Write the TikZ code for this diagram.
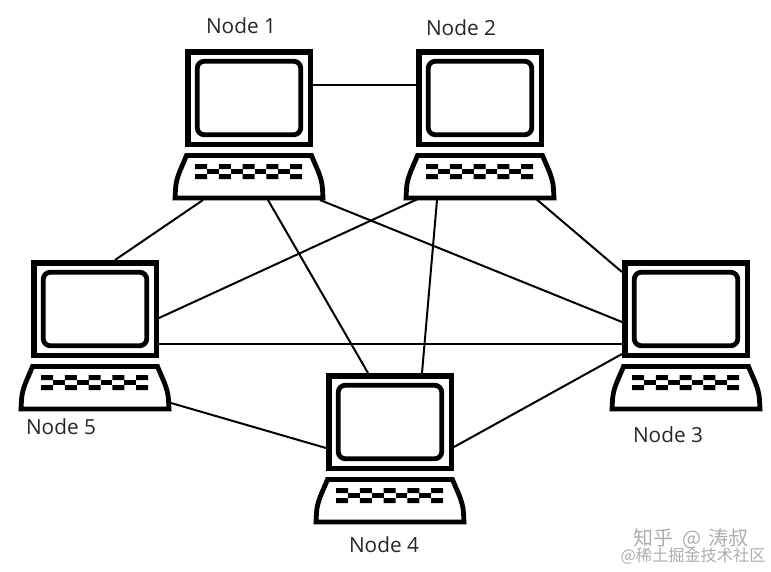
\documentclass[tikz,border=0pt]{standalone}
\usepackage{fontspec}
\setmainfont{Open Sans}
\newfontfamily\cjkwm{Noto Sans CJK SC}
\usetikzlibrary{calc}
\tikzset{
  x=1pt,y=-1pt,
  monitorbox/.style={draw,line width=5.5pt,rectangle,fill=white,minimum width=122.5pt,minimum height=92.5pt,inner sep=0pt,anchor=north west},
  screenbox/.style={draw,line width=4.8pt,rectangle,rounded corners=7pt,minimum width=103.5pt,minimum height=73.5pt,inner sep=0pt},
  kbbox/.style={rectangle,minimum width=151pt,minimum height=47pt,inner sep=0pt,outer sep=0pt,anchor=north west},
  kbshape/.style={draw,line width=4.8pt,line join=miter},
  link/.style={line width=2pt,black},
  lbl/.style={font=\fontsize{20.8}{23}\selectfont,text=black!85,inner sep=0pt},
  wm/.style={inner sep=0pt,text=black!32},
  computer/.pic={
    \node[monitorbox] (m) at (0,0) {};
    \node[screenbox] (s) at (m.center) {};
    \node[kbbox] (k) at (-11,104) {};
    \draw[kbshape] (1.5,106.5) -- (126.5,106.5) .. controls (131,118) and (137,128) .. (137.5,140) -- (138,149) -- (-10,149) -- (-9.5,140) .. controls (-9,128) and (-3,118) .. (1.5,106.5) -- cycle;
    \foreach \i in {0,1,2,3,4} \fill ({10+23.8*\i},115) rectangle +(12,5) ({10+23.8*\i},125) rectangle +(12,5);
    \foreach \i in {0,1,2,3} \fill ({22+23.8*\i},120) rectangle +(11.8,5);
  }
}
\begin{document}
\begin{tikzpicture}
\useasboundingbox (0,0) rectangle (771,571);
\pic (c1) at (185,49) {computer};
\pic (c2) at (416,49) {computer};
\pic (c3) at (622,260) {computer};
\pic (c4) at (326,373) {computer};
\pic (c5) at (31,260) {computer};
\draw[link] ($(c1m.east)+(0,-13)$) -- ($(c2m.west)+(0,-13)$);
\draw[link] ($(c1k.south)+(-46.5,0)$) -- ($(c5m.north)+(20,0)$);
\draw[link] ($(c1k.south)+(18.5,0)$) -- ($(c4m.north)+(-22,0)$);
\draw[link] ($(c1k.south)+(70.5,0)$) -- ($(c3m.west)+(0,13)$);
\draw[link] ($(c2k.south)+(-60.5,-2)$) -- ($(c5m.east)+(0,9)$);
\draw[link] ($(c2k.south)+(-43.5,0)$) -- ($(c4m.north)+(32,0)$);
\draw[link] ($(c2k.south)+(54.5,-2)$) -- ($(c3m.west)+(0,-37)$);
\draw[link] ($(c5m.east)+(0,35)$) -- ($(c3m.west)+(0,35)$);
\draw[link] ($(c5k.east)+(0,15.5)$) -- ($(c4m.west)+(0,26)$);
\draw[link] ($(c4m.east)+(0,25)$) -- ($(c3m.west)+(0,45)$);
\node[lbl] (n1) at (241,26) {Node 1};
\node[lbl] (n2) at (461,28) {Node 2};
\node[lbl] (n3) at (668,435) {Node 3};
\node[lbl] (n4) at (384,545) {Node 4};
\node[lbl] (n5) at (61,427) {Node 5};
\node[wm,font=\cjkwm\fontsize{20}{22}\selectfont] (w1) at (691,539) {知乎\hspace{9pt}@\hspace{7pt}涛叔};
\node[wm,font=\cjkwm\fontsize{16.2}{18}\selectfont] (w2) at (693,556) {@稀土掘金技术社区};
\end{tikzpicture}
\end{document}
